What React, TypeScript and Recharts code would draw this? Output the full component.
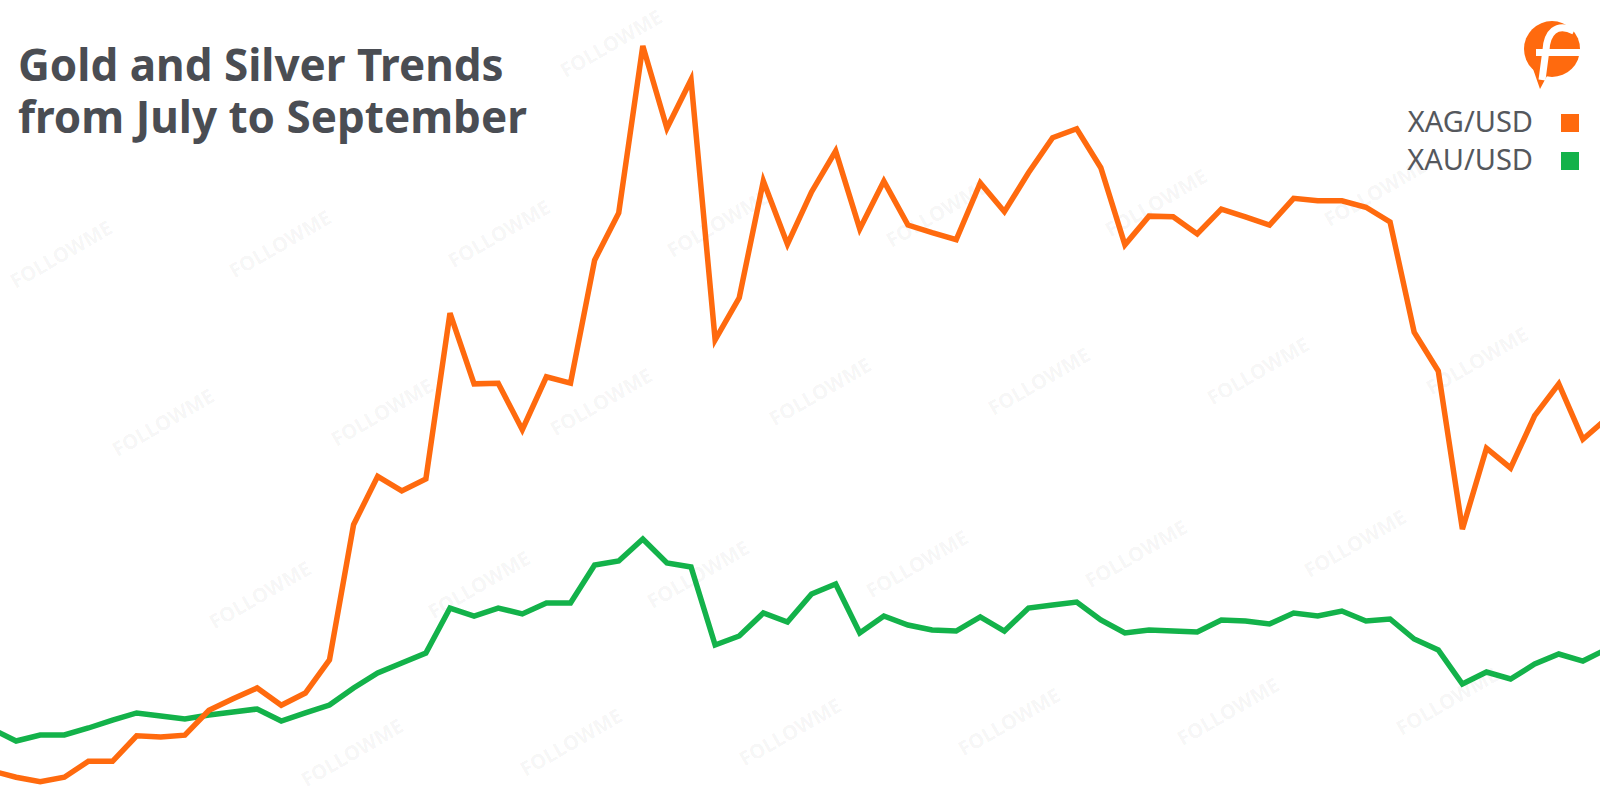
import React from 'react';
import { LineChart, Line, XAxis, YAxis } from 'recharts';

// trading days, 2020-06-29 .. 2020-09-30
const dates = [
  '06-29', '06-30', '07-01', '07-02', '07-03', '07-06', '07-07', '07-08', '07-09', '07-10',
  '07-13', '07-14', '07-15', '07-16', '07-17', '07-20', '07-21', '07-22', '07-23', '07-24',
  '07-27', '07-28', '07-29', '07-30', '07-31', '08-03', '08-04', '08-05', '08-06', '08-07',
  '08-10', '08-11', '08-12', '08-13', '08-14', '08-17', '08-18', '08-19', '08-20', '08-21',
  '08-24', '08-25', '08-26', '08-27', '08-28', '08-31', '09-01', '09-02', '09-03', '09-04',
  '09-07', '09-08', '09-09', '09-10', '09-11', '09-14', '09-15', '09-16', '09-17', '09-18',
  '09-21', '09-22', '09-23', '09-24', '09-25', '09-28', '09-29', '09-30',
];

const xagUsd = [
  17.81, 17.71, 17.64, 17.71, 17.96, 17.96, 18.36, 18.34, 18.37, 18.76,
  18.94, 19.11, 18.84, 19.03, 19.55, 21.67, 22.43, 22.2, 22.39, 24.99,
  23.88, 23.89, 23.16, 23.99, 23.89, 25.82, 26.56, 29.18, 27.89, 28.65,
  24.57, 25.23, 27.06, 26.07, 26.89, 27.53, 26.31, 27.06, 26.37, 26.25,
  26.14, 27.03, 26.58, 27.19, 27.74, 27.88, 27.27, 26.06, 26.51, 26.5,
  26.23, 26.62, 26.5, 26.37, 26.79, 26.75, 26.75, 26.65, 26.42, 24.69,
  24.08, 21.6, 22.87, 22.56, 23.38, 23.88, 23.01, 23.34,
];

const xauUsd = [
  1777.3, 1760.1, 1768.7, 1768.7, 1778.7, 1790.1, 1800.2, 1795.9, 1791.6, 1797.3,
  1801.6, 1805.9, 1788.7, 1800.2, 1811.6, 1835.9, 1857.4, 1871.7, 1886.0, 1950.3,
  1938.9, 1950.3, 1941.8, 1957.5, 1957.5, 2011.8, 2017.6, 2049.0, 2014.7, 2009.0,
  1897.4, 1910.3, 1943.2, 1930.3, 1970.4, 1984.7, 1914.6, 1938.9, 1926.0, 1918.9,
  1917.4, 1937.5, 1917.4, 1950.3, 1954.6, 1958.9, 1933.2, 1914.6, 1918.9, 1917.4,
  1916.0, 1933.2, 1931.7, 1927.5, 1943.2, 1938.9, 1946.0, 1931.7, 1934.6, 1906.0,
  1890.3, 1841.6, 1858.8, 1848.8, 1870.2, 1884.5, 1874.5, 1891.7,
];

const seriesNames = ['XAG/USD', 'XAU/USD'];
const titleLines = ['Gold and Silver Trends', 'from July to September'];

const ORANGE = '#FF6A0E';
const GREEN = '#13B24A';
const FONT = '"Noto Sans", "Open Sans", sans-serif';

const data = dates.map((d, i) => ({ date: d, xag: xagUsd[i], xau: xauUsd[i] }));

// faint diagonal watermark rows: [y at x=0, x phase]
const watermarkRows = [
  [72, 173],
  [257, 61],
  [430, 163],
  [607, 41],
  [769, 133],
];

const Watermarks: React.FC = () => {
  const items: { x: number; y: number }[] = [];
  for (const [y0, phase] of watermarkRows) {
    for (let x = phase; x < 1600; x += 219) {
      const y = y0 - 0.047 * x;
      const inside = x - 55 >= 0 && x + 55 <= 1600 && y - 42 >= 0 && y + 42 <= 797;
      const onTitle = x - 55 < 540 && y - 42 < 145;
      if (inside && !onTitle) items.push({ x, y });
    }
  }
  return (
    <svg width={1600} height={797} style={{ position: 'absolute', left: 0, top: 0 }}>
      {items.map((p, i) => (
        <text
          key={i}
          x={p.x}
          y={p.y}
          textAnchor="middle"
          dominantBaseline="central"
          transform={`rotate(-30 ${p.x} ${p.y})`}
          fontFamily={FONT}
          fontWeight={700}
          fontSize={20}
          fill="#000"
          fillOpacity={0.055}
        >
          FOLLOWME
        </text>
      ))}
    </svg>
  );
};

const Title: React.FC = () => (
  <div
    style={{
      position: 'absolute',
      left: 18,
      top: 38,
      fontFamily: FONT,
      fontWeight: 700,
      fontSize: 44,
      lineHeight: '52px',
      color: '#4a4d53',
      whiteSpace: 'nowrap',
    }}
  >
    {titleLines.map((t) => (
      <div key={t}>{t}</div>
    ))}
  </div>
);

const Overlay: React.FC = () => (
  <svg width={1600} height={797} style={{ position: 'absolute', left: 0, top: 0, pointerEvents: 'none' }}>
    {/* logo */}
    <circle cx={1552} cy={49} r={28} fill={ORANGE} />
    <path d="M1532,66 L1548,74 L1540,89 Z" fill={ORANGE} />
    <path d="M1574,31 C1556,22 1547,33 1546,50 L1542,80" stroke="#fff" strokeWidth={7} fill="none" />
    <rect x={1536} y={49} width={46} height={7} fill="#fff" />

    {seriesNames.map((name, i) => (
      <g key={name}>
        <text x={1533} y={132 + i * 38} textAnchor="end" fontFamily={FONT} fontSize={29} fill="#55585d">
          {name}
        </text>
        <rect x={1561} y={114 + i * 38} width={18} height={18} fill={i === 0 ? ORANGE : GREEN} />
      </g>
    ))}
  </svg>
);

export default function App() {
  return (
    <div
      style={{
        position: 'absolute',
        left: 0,
        top: 0,
        width: 1600,
        height: 797,
        overflow: 'hidden',
        background: '#fff',
      }}
    >
      <Watermarks />
      <div style={{ position: 'absolute', left: -8, top: 0 }}>
        <LineChart width={1615} height={797} data={data} margin={{ top: 0, right: 0, bottom: 0, left: 0 }}>
          <XAxis dataKey="date" hide />
          <YAxis yAxisId="ag" hide type="number" domain={[17.4, 29.9]} allowDataOverflow />
          <YAxis yAxisId="au" hide type="number" domain={[1680, 2820]} allowDataOverflow />
          <Line
            yAxisId="au"
            type="linear"
            dataKey="xau"
            name={seriesNames[1]}
            stroke={GREEN}
            strokeWidth={5.5}
            dot={false}
            activeDot={false}
            isAnimationActive={false}
          />
          <Line
            yAxisId="ag"
            type="linear"
            dataKey="xag"
            name={seriesNames[0]}
            stroke={ORANGE}
            strokeWidth={5.5}
            dot={false}
            activeDot={false}
            isAnimationActive={false}
          />
        </LineChart>
      </div>
      <Title />
      <Overlay />
    </div>
  );
}
